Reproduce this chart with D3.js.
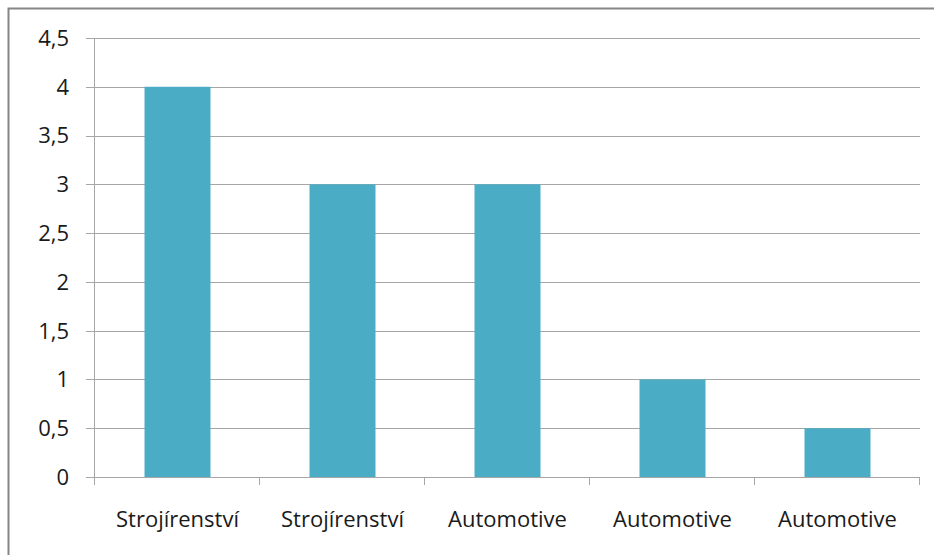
<!DOCTYPE html>
<html>
<head>
<meta charset="utf-8">
<script src="https://cdn.jsdelivr.net/npm/d3@7"></script>
<style>
  html, body { margin: 0; padding: 0; background: #fff; }
  svg { display: block; }
</style>
</head>
<body>
<svg id="chart" width="934" height="555"></svg>
<script>
// Chart data
const categories = ["Strojírenství", "Strojírenství", "Automotive", "Automotive", "Automotive"];
const values = [4, 3, 3, 1, 0.5];
const yTicks = [0, 0.5, 1, 1.5, 2, 2.5, 3, 3.5, 4, 4.5];

(function () {
  const svg = d3.select("#chart");
  const W = 934, H = 555;
  const plotLeft = 95, plotRight = 920, plotTop = 38, plotBottom = 477;

  // Outer frame of the chart area
  svg.append("rect")
    .attr("x", 8.5).attr("y", 8.5)
    .attr("width", W + 20).attr("height", H + 20)
    .attr("fill", "#fff")
    .attr("stroke", "#868686").attr("stroke-width", 2);

  const x = d3.scaleBand().domain(d3.range(categories.length)).range([plotLeft, plotRight]);
  const y = d3.scaleLinear().domain([0, 4.5]).range([plotBottom, plotTop]);

  const fmt = d => String(d).replace(".", ",");
  const font = "'Open Sans', 'Noto Sans', sans-serif";
  const fontSize = 22;

  // Horizontal gridlines with left tick marks
  svg.append("g").selectAll("line").data(yTicks).join("line")
    .attr("x1", plotLeft - 9).attr("x2", plotRight)
    .attr("y1", d => Math.round(y(d)) + 0.5).attr("y2", d => Math.round(y(d)) + 0.5)
    .attr("stroke", "#a6a6a6").attr("stroke-width", 1);

  // Y axis labels
  svg.append("g").selectAll("text").data(yTicks).join("text")
    .attr("x", 69).attr("y", d => y(d))
    .attr("dy", "0.36em")
    .attr("text-anchor", "end")
    .attr("font-family", font).attr("font-size", fontSize)
    .attr("fill", "#1a1a1a")
    .text(fmt);

  // Bars
  const barW = x.bandwidth() * 0.4;
  svg.append("g").selectAll("rect").data(values).join("rect")
    .attr("x", (d, i) => x(i) + (x.bandwidth() - barW) / 2)
    .attr("y", d => y(d))
    .attr("width", barW)
    .attr("height", d => y(0) - y(d))
    .attr("fill", "#4bacc6");

  // Y axis line
  svg.append("line")
    .attr("x1", plotLeft - 0.5).attr("x2", plotLeft - 0.5)
    .attr("y1", plotTop).attr("y2", plotBottom)
    .attr("stroke", "#a6a6a6").attr("stroke-width", 1);

  // X axis baseline and category tick marks
  svg.append("line")
    .attr("x1", plotLeft).attr("x2", plotRight)
    .attr("y1", Math.round(y(0)) + 0.5).attr("y2", Math.round(y(0)) + 0.5)
    .attr("stroke", "#a6a6a6");
  svg.append("g").selectAll("line").data(d3.range(categories.length + 1)).join("line")
    .attr("x1", i => (i < categories.length ? x(i) : plotRight) - 0.5)
    .attr("x2", i => (i < categories.length ? x(i) : plotRight) - 0.5)
    .attr("y1", plotBottom).attr("y2", plotBottom + 8)
    .attr("stroke", "#a6a6a6");

  // Category labels
  svg.append("g").selectAll("text").data(categories).join("text")
    .attr("x", (d, i) => x(i) + x.bandwidth() / 2)
    .attr("y", 527)
    .attr("text-anchor", "middle")
    .attr("font-family", font).attr("font-size", fontSize)
    .attr("fill", "#1a1a1a")
    .text(d => d);
})();
</script>
</body>
</html>
